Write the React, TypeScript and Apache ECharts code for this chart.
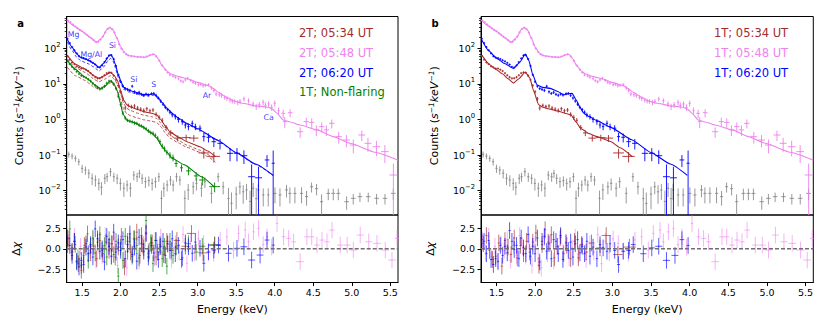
import React, { useEffect, useRef } from "react";
import * as echarts from "echarts";

const FONT = "DejaVu Sans";
const X_MIN = 1.3;
const X_MAX = 5.6;
const LOG_MIN = -2.683;
const LOG_MAX = 2.893;
const RES_MIN = -4.07;
const RES_MAX = 4.07;

const energyTicks = [1.5, 2.0, 2.5, 3.0, 3.5, 4.0, 4.5, 5.0, 5.5];
const decadeTicks = [-2, -1, 0, 1, 2];
const residualTicks = [-2.5, 0, 2.5];

const BROWN = "#a52a2a";
const VIOLET = "#ee82ee";
const BLUE = "#0000ff";
const GREEN = "#008000";
const GRAY = "#808080";

const legendA: [string, string][] = [
  ["2T; 05:34 UT", BROWN],
  ["2T; 05:48 UT", VIOLET],
  ["2T; 06:20 UT", BLUE],
  ["1T; Non-flaring", GREEN],
];
const legendB: [string, string][] = [
  ["1T; 05:34 UT", BROWN],
  ["1T; 05:48 UT", VIOLET],
  ["1T; 06:20 UT", BLUE],
];

// [label, energy keV, counts]
const lineLabels: [string, number, number][] = [
  ["Mg", 1.39, 244],
  ["Mg/Al", 1.62, 69],
  ["Si", 1.894, 121],
  ["Si", 2.171, 13.7],
  ["S", 2.431, 9.5],
  ["Ar", 3.12, 4.67],
  ["Ca", 3.92, 1.15],
];

// Data: [energy, half bin width, counts, error]
const pinkData = [
  [1.32,0.008,600,15],[1.35,0.008,540,14],[1.38,0.008,470,13],[1.41,0.008,410,12],[1.44,0.008,365,11],[1.47,0.008,330,10],[1.50,0.008,300,9],[1.53,0.008,268,8],[1.56,0.008,240,8],[1.59,0.008,212,7],[1.62,0.008,190,7],[1.65,0.008,168,6],[1.68,0.008,150,6],[1.71,0.008,152,6],[1.74,0.008,175,6],[1.77,0.008,215,7],[1.80,0.008,280,8],[1.83,0.008,350,9],[1.86,0.008,380,10],[1.89,0.008,345,9],[1.92,0.008,275,8],[1.95,0.008,195,7],[1.98,0.008,130,5],[2.01,0.008,98,4],[2.04,0.008,78,4],[2.07,0.008,68,3],[2.10,0.008,63,3],[2.14,0.008,60,3],[2.18,0.008,59,3],[2.22,0.008,57,3],[2.26,0.008,57,3],[2.30,0.008,56,3],[2.34,0.008,59,3],[2.38,0.008,64,3],[2.42,0.008,68,3],[2.46,0.008,60,3],[2.50,0.008,45,2.5],[2.54,0.008,33,2],[2.58,0.008,25,1.8],[2.61,0.01,21,1.6],
  [2.64,0.012,17.8,1.5],[2.68,0.012,16.5,1.4],[2.71,0.012,15.3,1.4],[2.75,0.012,14.0,1.3],[2.78,0.012,12.3,1.2],[2.81,0.012,11.5,1.2],[2.84,0.012,13.0,1.3],[2.87,0.012,14.4,1.4],[2.91,0.012,12.5,1.2],[2.94,0.012,11.1,1.1],[2.97,0.012,10.5,1.1],[3.01,0.012,9.5,1.0],[3.04,0.012,9.8,1.0],[3.07,0.012,8.9,1.0],[3.10,0.012,9.2,1.0],[3.14,0.012,9.5,1.0],[3.18,0.012,7.7,0.9],[3.21,0.012,6.5,0.8],[3.24,0.012,5.2,0.7],[3.28,0.012,5.0,0.7],[3.31,0.012,4.67,0.65],[3.35,0.012,4.2,0.6],[3.38,0.012,3.9,0.6],[3.42,0.012,3.53,0.55],[3.45,0.012,3.3,0.5],[3.48,0.012,3.24,0.5],[3.52,0.012,3.0,0.5],[3.55,0.012,3.24,0.5],[3.60,0.015,3.77,0.6],[3.66,0.015,3.37,0.55],[3.72,0.015,2.72,0.5],[3.76,0.015,2.29,0.45],[3.80,0.015,2.6,0.5],[3.85,0.015,3.04,0.55],[3.88,0.015,2.5,0.5],[3.92,0.015,2.72,0.5],[3.96,0.015,2.2,0.45],[4.00,0.015,2.85,0.55],[4.05,0.015,1.77,0.4],
  [4.11,0.025,1.49,0.4],[4.13,0.025,0.87,0.3],[4.20,0.03,1.55,0.4],[4.33,0.04,0.454,0.15],[4.41,0.035,0.87,0.25],[4.48,0.035,0.83,0.25],[4.54,0.035,0.51,0.17],[4.61,0.035,0.63,0.2],[4.67,0.035,0.51,0.17],[4.74,0.035,0.78,0.22],[4.83,0.04,0.33,0.12],[4.93,0.045,0.265,0.1],[5.02,0.045,0.192,0.08],[5.13,0.045,0.367,0.12],[5.21,0.045,0.214,0.09],[5.32,0.05,0.172,0.08],[5.43,0.05,0.125,0.065],[5.54,0.05,0.0276,0.03],
];

const blueData = [
  [1.31,0.008,185,6],[1.34,0.008,140,5],[1.37,0.008,108,4],[1.40,0.008,88,4],[1.43,0.008,72,3],[1.46,0.008,60,3],[1.49,0.008,55,3],[1.52,0.008,53,3],[1.55,0.008,50,3],[1.58,0.008,46,2.5],[1.61,0.008,43,2.5],[1.64,0.008,39,2.5],[1.67,0.008,35,2],[1.70,0.008,30,2],[1.73,0.008,29,2],[1.76,0.008,33,2],[1.79,0.008,41,2],[1.82,0.008,52,3],[1.85,0.008,63,3],[1.88,0.008,64,3],[1.91,0.008,50,3],[1.94,0.008,32,2],[1.97,0.008,18,1.5],[2.00,0.008,11.5,1],[2.03,0.008,8.6,0.8],[2.06,0.008,7.4,0.7],[2.09,0.008,7.0,0.7],[2.12,0.008,6.6,0.7],[2.15,0.008,8.6,0.8],[2.18,0.008,6.0,0.6],[2.21,0.008,5.4,0.5],[2.24,0.008,5.8,0.6],[2.27,0.008,5.1,0.5],[2.30,0.008,4.8,0.5],[2.33,0.008,5.2,0.5],[2.36,0.008,4.9,0.5],[2.40,0.008,5.3,0.5],[2.43,0.008,5.4,0.5],[2.46,0.008,4.8,0.5],[2.49,0.008,4.0,0.4],[2.52,0.008,3.3,0.35],[2.55,0.008,2.7,0.3],[2.58,0.01,2.2,0.25],[2.61,0.01,1.9,0.22],[2.64,0.012,1.6,0.2],[2.67,0.012,1.35,0.2],
  [2.71,0.015,1.2,0.2],[2.75,0.015,1.0,0.18],[2.80,0.015,0.87,0.16],[2.84,0.015,0.70,0.14],[2.88,0.015,0.63,0.13],[2.93,0.015,0.78,0.15],[2.97,0.015,0.63,0.13],[3.03,0.02,0.57,0.12],[3.08,0.02,0.33,0.09],[3.14,0.025,0.316,0.09],[3.21,0.03,0.238,0.07],[3.29,0.035,0.214,0.07],[3.42,0.04,0.112,0.045],[3.51,0.04,0.112,0.045],[3.60,0.045,0.096,0.04],[3.70,0.045,0.0247,0.03],[3.79,0.045,0.023,0.024],[3.90,0.03,0.073,0.027],[3.98,0.02,0.059,0.075],
];

const brownData = [
  [1.31,0.008,60,3],[1.34,0.008,48,2.5],[1.37,0.008,40,2.2],[1.40,0.008,36,2],[1.43,0.008,31,2],[1.46,0.008,29,1.8],[1.49,0.008,27,1.7],[1.52,0.008,27,1.7],[1.55,0.008,25,1.6],[1.58,0.008,23,1.5],[1.61,0.008,20,1.4],[1.64,0.008,17.5,1.3],[1.67,0.008,15.5,1.2],[1.70,0.008,14.3,1.1],[1.73,0.008,14.5,1.1],[1.76,0.008,15.5,1.2],[1.79,0.008,17.5,1.3],[1.82,0.008,20,1.4],[1.85,0.008,21,1.4],[1.88,0.008,20.5,1.4],[1.91,0.008,17,1.3],[1.94,0.008,13,1.1],[1.97,0.008,9,0.9],[2.00,0.008,6,0.7],[2.03,0.01,3.8,0.5],
  [2.06,0.012,2.1,0.3],[2.10,0.012,2.5,0.3],[2.14,0.012,2.3,0.3],[2.18,0.012,2.4,0.3],[2.22,0.012,2.1,0.28],[2.26,0.012,1.95,0.26],[2.30,0.012,1.8,0.25],[2.34,0.015,2.0,0.26],[2.38,0.015,1.75,0.24],[2.42,0.015,1.85,0.25],[2.46,0.015,1.4,0.2],[2.50,0.015,1.15,0.17],[2.54,0.015,0.95,0.15],[2.59,0.02,0.6,0.1],[2.65,0.03,0.42,0.08],[2.74,0.05,0.30,0.06],[2.85,0.06,0.31,0.065],[2.95,0.06,0.30,0.065],[3.08,0.07,0.115,0.035],[3.21,0.08,0.092,0.03],
];

const greenData = [
  [1.31,0.008,44,2.5],[1.34,0.008,36,2.2],[1.37,0.008,30,2],[1.40,0.008,26,1.8],[1.43,0.008,22,1.6],[1.46,0.008,19,1.5],[1.49,0.008,17,1.4],[1.52,0.008,16,1.3],[1.55,0.008,15,1.3],[1.58,0.008,13.5,1.2],[1.61,0.008,12,1.1],[1.64,0.008,10.3,1],[1.67,0.008,9,0.9],[1.70,0.008,8,0.8],[1.73,0.008,7.3,0.8],[1.76,0.008,7.6,0.8],[1.79,0.008,8.6,0.9],[1.82,0.008,10.5,1],[1.85,0.008,12,1.1],[1.88,0.008,11.8,1.1],[1.91,0.008,10,1],[1.94,0.008,7.5,0.8],[1.97,0.008,4.5,0.5],[2.00,0.008,2.6,0.3],[2.03,0.008,1.5,0.2],[2.06,0.008,1.1,0.12],[2.09,0.008,0.95,0.1],[2.12,0.008,0.90,0.1],[2.15,0.008,0.86,0.09],[2.18,0.008,0.80,0.09],[2.21,0.008,0.78,0.08],[2.24,0.008,0.70,0.08],[2.27,0.008,0.66,0.07],[2.30,0.008,0.60,0.07],[2.33,0.008,0.55,0.06],[2.36,0.008,0.48,0.06],[2.39,0.008,0.43,0.05],[2.42,0.008,0.41,0.05],[2.45,0.008,0.36,0.05],[2.48,0.008,0.30,0.04],[2.51,0.008,0.24,0.035],[2.54,0.01,0.18,0.03],[2.57,0.01,0.15,0.025],[2.60,0.01,0.12,0.02],[2.64,0.015,0.10,0.02],[2.68,0.015,0.085,0.018],
  [2.72,0.02,0.058,0.012],[2.79,0.02,0.044,0.01],[2.88,0.03,0.036,0.009],[2.98,0.03,0.026,0.007],[3.06,0.04,0.02,0.006],[3.22,0.07,0.013,0.004],
];

const grayData = [
  [1.327,0.01,0.105,0.02],[1.37,0.01,0.094,0.018],[1.413,0.01,0.081,0.016],[1.457,0.01,0.065,0.014],[1.5,0.01,0.0425,0.011],[1.543,0.01,0.038,0.01],[1.587,0.01,0.031,0.009],[1.63,0.01,0.0223,0.008],[1.673,0.01,0.02,0.007],[1.717,0.01,0.0161,0.006],[1.751,0.01,0.0125,0.005],[1.795,0.01,0.0223,0.007],[1.825,0.01,0.0247,0.007],[1.868,0.01,0.0342,0.009],[1.912,0.01,0.0247,0.007],[1.955,0.01,0.0223,0.007],[1.997,0.01,0.0161,0.006],[2.042,0.01,0.0117,0.005],[2.084,0.01,0.0145,0.005],[2.127,0.01,0.0117,0.005],[2.171,0.01,0.0276,0.008],[2.214,0.01,0.0247,0.007],[2.244,0.01,0.0308,0.008],[2.279,0.01,0.0223,0.007],[2.322,0.01,0.0179,0.006],[2.366,0.01,0.0191,0.006],[2.409,0.01,0.0161,0.006],[2.452,0.01,0.0179,0.006],[2.496,0.01,0.0247,0.007],[2.53,0.01,0.0061,0.004],[2.561,0.01,0.0117,0.005],[2.604,0.01,0.0145,0.005],[2.647,0.012,0.02,0.006],[2.682,0.012,0.0145,0.005],[2.725,0.012,0.0247,0.007],[2.769,0.012,0.02,0.006],[2.834,0.012,0.0061,0.004],[2.877,0.012,0.0105,0.005],[2.942,0.015,0.0129,0.005],[2.984,0.015,0.0161,0.006],[3.049,0.015,0.0117,0.005],[3.094,0.015,0.0179,0.006],[3.179,0.015,0.0084,0.004],[3.266,0.015,0.0247,0.007],[3.331,0.015,0.0129,0.005],[3.40,0.015,0.006,0.006],[3.439,0.015,0.0044,0.0045],[3.50,0.015,0.008,0.005],[3.548,0.015,0.0129,0.005],[3.591,0.015,0.0093,0.005],[3.634,0.015,0.0105,0.005],[3.68,0.015,0.005,0.005],[3.721,0.015,0.0117,0.005],[3.76,0.015,0.006,0.006],[3.786,0.015,0.0105,0.005],[3.851,0.015,0.0076,0.004],[3.916,0.015,0.0076,0.004],[4.003,0.02,0.0084,0.004],[4.068,0.02,0.0076,0.004],[4.153,0.02,0.0105,0.004],[4.197,0.02,0.0084,0.004],[4.262,0.02,0.0084,0.004],[4.348,0.02,0.0084,0.004],[4.413,0.02,0.0068,0.003],[4.478,0.02,0.0129,0.004],[4.543,0.02,0.0114,0.004],[4.608,0.02,0.0049,0.003],[4.695,0.025,0.0084,0.003],[4.76,0.025,0.0084,0.003],[4.825,0.025,0.0084,0.003],[4.933,0.03,0.0049,0.002],[5.019,0.03,0.0061,0.002],[5.106,0.03,0.0068,0.002],[5.214,0.03,0.0068,0.002],[5.322,0.03,0.0061,0.002],[5.431,0.03,0.0061,0.002],[5.539,0.03,0.0084,0.003],
];

// Models: [energy, counts]
const pinkModel = [[1.30,624],[1.40,420],[1.50,300],[1.60,205],[1.69,147],[1.76,200],[1.82,330],[1.86,384],[1.90,330],[1.95,200],[2.00,110],[2.05,76],[2.10,63],[2.20,58],[2.32,56],[2.40,66],[2.44,68],[2.49,50],[2.54,32],[2.60,23],[2.65,19],[2.75,16],[2.88,13.7],[3.00,11],[3.14,8.9],[3.20,7.5],[3.27,5.8],[3.37,4.3],[3.48,3.24],[3.60,2.8],[3.74,2.44],[3.85,2.3],[3.92,2.2],[3.97,1.95],[4.03,1.49],[4.11,0.97],[4.20,0.85],[4.33,0.70],[4.55,0.51],[4.76,0.33],[4.98,0.214],[5.30,0.12],[5.60,0.072]];
const blueModelA = [[1.30,190],[1.37,107],[1.43,70],[1.48,56],[1.54,50],[1.59,45],[1.65,38],[1.72,29],[1.78,38],[1.84,58],[1.87,66],[1.90,55],[1.93,36],[1.97,18],[2.01,11],[2.04,8.0],[2.10,6.8],[2.15,6.2],[2.22,5.6],[2.30,5.0],[2.36,5.0],[2.43,5.2],[2.48,4.3],[2.54,3.0],[2.60,2.1],[2.67,1.5],[2.75,1.1],[2.85,0.80],[3.00,0.55],[3.25,0.27],[3.50,0.118],[3.75,0.056],[3.98,0.027]];
const blueCompA = [[1.31,150],[1.37,86],[1.43,56],[1.48,45],[1.54,40],[1.59,36],[1.65,30],[1.72,23],[1.78,30],[1.84,46],[1.87,52],[1.90,44],[1.93,29],[1.97,15],[2.01,9.5],[2.04,7.0],[2.10,6.0],[2.15,5.6],[2.22,5.1],[2.30,4.6],[2.36,4.6],[2.43,4.8],[2.48,4.0],[2.54,2.8],[2.60,1.95],[2.67,1.4],[2.75,1.03],[2.85,0.76],[3.00,0.53],[3.25,0.26],[3.50,0.115],[3.75,0.055],[3.98,0.0265]];
const brownModelA = [[1.31,62],[1.41,36],[1.54,26],[1.60,21],[1.65,17],[1.72,14.4],[1.79,17],[1.87,21],[1.92,17],[1.96,12.3],[2.00,6.5],[2.04,3.5],[2.08,2.6],[2.13,2.24],[2.22,1.9],[2.30,1.66],[2.40,1.5],[2.47,1.34],[2.52,1.0],[2.58,0.65],[2.64,0.45],[2.75,0.32],[2.86,0.238],[3.03,0.172],[3.13,0.13],[3.23,0.09]];
const brownCompA1 = [[1.31,50],[1.41,29],[1.54,21],[1.60,17],[1.65,13.5],[1.72,11.5],[1.79,13.5],[1.87,17],[1.92,13.5],[1.96,9.8],[2.00,5.2],[2.04,2.8],[2.08,2.05],[2.13,1.78],[2.22,1.5],[2.30,1.32],[2.40,1.2],[2.47,1.07],[2.52,0.8],[2.58,0.52],[2.64,0.36],[2.75,0.26],[2.86,0.19],[3.03,0.138],[3.13,0.104],[3.23,0.072]];
const brownCompA2 = [[1.31,29],[1.41,17],[1.54,12.5],[1.60,10],[1.65,8.2],[1.72,7.0],[1.79,8.5],[1.87,10.8],[1.92,8.8],[1.96,6.5],[2.00,3.5],[2.04,1.9],[2.08,1.45],[2.13,1.27],[2.22,1.1],[2.30,0.98],[2.40,0.9],[2.47,0.82],[2.52,0.63],[2.58,0.42],[2.64,0.30],[2.75,0.22],[2.86,0.165],[3.03,0.12],[3.13,0.091],[3.23,0.063]];
const greenModel = [[1.31,45],[1.41,26],[1.54,15.3],[1.60,12.5],[1.65,9.9],[1.74,7.2],[1.80,8.8],[1.87,12.3],[1.92,9.5],[1.955,6.4],[2.00,2.7],[2.03,1.43],[2.085,0.94],[2.17,0.83],[2.28,0.63],[2.36,0.47],[2.41,0.40],[2.47,0.30],[2.54,0.172],[2.60,0.12],[2.67,0.081],[2.83,0.053],[3.05,0.0247],[3.22,0.0125]];
const blueModelB = [[1.31,171],[1.40,85],[1.505,52],[1.60,38],[1.72,27],[1.80,40],[1.873,69],[1.92,45],[1.97,18],[2.025,9.3],[2.10,8.0],[2.197,7.5],[2.30,6.0],[2.37,4.9],[2.43,5.3],[2.479,5.4],[2.53,3.6],[2.58,2.2],[2.63,1.49],[2.70,1.2],[2.80,0.93],[2.98,0.6],[3.25,0.27],[3.50,0.118],[3.75,0.056],[3.97,0.027]];
const brownModelB = [[1.31,64],[1.41,35],[1.50,25],[1.58,19],[1.65,14],[1.72,10.5],[1.79,14],[1.873,21.5],[1.93,15],[1.98,6.5],[2.045,2.6],[2.10,2.2],[2.197,1.95],[2.30,1.7],[2.414,1.45],[2.47,1.3],[2.53,0.85],[2.587,0.57],[2.70,0.40],[2.804,0.33],[2.977,0.24],[3.10,0.16],[3.258,0.09]];

// Residuals: [energy, half bin width, delta chi]
const resPink = [[1.32,0.008,0.8],[1.36,0.008,-0.5],[1.40,0.008,1.5],[1.44,0.008,-1.0],[1.48,0.008,0.3],[1.52,0.008,-1.6],[1.56,0.008,0.6],[1.60,0.008,-0.2],[1.64,0.008,1.1],[1.68,0.008,-1.4],[1.72,0.008,0.4],[1.76,0.008,-0.8],[1.80,0.008,1.6],[1.84,0.008,0.2],[1.88,0.008,-0.9],[1.92,0.008,0.9],[1.96,0.008,-2.0],[2.00,0.008,0.5],[2.04,0.008,-1.2],[2.08,0.008,-2.3],[2.12,0.008,1.3],[2.16,0.008,-0.6],[2.20,0.008,0.7],[2.24,0.008,-1.5],[2.28,0.008,0.3],[2.32,0.008,1.2],[2.36,0.008,-0.4],[2.40,0.008,0.8],[2.44,0.008,-1.1],[2.48,0.008,0.1],[2.52,0.008,1.4],[2.56,0.008,-0.7],[2.61,0.01,0.5],[2.66,0.012,-1.3],[2.71,0.012,0.6],[2.76,0.012,-0.4],[2.81,0.012,1.7],[2.86,0.012,-1.8],[2.91,0.012,0.9],[2.96,0.012,-0.5],[3.01,0.012,1.2],[3.076,0.012,0.65],[3.14,0.012,-0.3],[3.206,0.012,-0.55],[3.292,0.012,1.05],[3.379,0.012,1.44],[3.465,0.012,-0.16],[3.53,0.012,1.85],[3.617,0.015,2.25],[3.66,0.015,0.84],[3.725,0.015,2.04],[3.79,0.015,2.45],[3.85,0.015,0.5],[3.90,0.015,1.44],[3.96,0.015,0.2],[4.03,0.015,3.05],[4.115,0.025,1.44],[4.18,0.03,1.25],[4.245,0.03,0.84],[4.33,0.05,-1.56],[4.418,0.035,1.44],[4.48,0.035,1.44],[4.548,0.035,0.44],[4.613,0.035,1.05],[4.678,0.035,0.84],[4.743,0.035,2.25],[4.85,0.04,0.44],[4.94,0.045,0.44],[5.02,0.045,-0.16],[5.11,0.045,1.65],[5.22,0.045,0.84],[5.327,0.05,0.65],[5.435,0.05,-0.16],[5.522,0.05,-1.36],[5.587,0.03,1.25]];
const resBlueA = [[1.31,0.008,1.3],[1.34,0.008,0.4],[1.37,0.008,-0.8],[1.40,0.008,0.9],[1.43,0.008,-1.5],[1.46,0.008,-2.2],[1.49,0.008,-1.4],[1.52,0.008,-1.9],[1.55,0.008,0.2],[1.58,0.008,-0.6],[1.61,0.008,0.5],[1.64,0.008,-1.0],[1.67,0.008,2.4],[1.70,0.008,1.2],[1.73,0.008,-0.3],[1.76,0.008,0.0],[1.79,0.008,-1.6],[1.82,0.008,1.5],[1.85,0.008,0.3],[1.88,0.008,-0.9],[1.91,0.008,2.0],[1.94,0.008,-0.4],[1.97,0.008,0.7],[2.00,0.008,-0.2],[2.03,0.008,1.1],[2.06,0.008,-1.2],[2.09,0.008,0.5],[2.12,0.008,1.8],[2.15,0.008,-0.7],[2.18,0.008,0.2],[2.21,0.008,-1.5],[2.24,0.008,1.4],[2.27,0.008,0.6],[2.30,0.008,-0.3],[2.33,0.008,1.9],[2.36,0.008,-1.0],[2.40,0.008,0.4],[2.43,0.008,-0.5],[2.46,0.008,1.0],[2.49,0.008,-1.3],[2.52,0.008,0.3],[2.55,0.008,0.9],[2.58,0.01,-0.8],[2.61,0.01,0.6],[2.64,0.012,-0.2],[2.67,0.012,1.2],[2.71,0.015,-0.6],[2.75,0.015,0.4],[2.80,0.015,-1.1],[2.84,0.015,0.7],[2.88,0.015,0.24],[2.93,0.015,-0.55],[2.97,0.015,0.8],[3.03,0.02,0.05],[3.08,0.02,-1.75],[3.14,0.025,-0.4],[3.21,0.03,-0.16],[3.27,0.03,0.44],[3.40,0.04,-0.55],[3.51,0.04,0.05],[3.60,0.045,0.24],[3.70,0.045,-1.36],[3.81,0.045,-0.76],[3.90,0.03,1.05],[3.98,0.02,0.44]];
const resBrownA = [[1.33,0.008,1.2],[1.37,0.008,-0.3],[1.41,0.008,0.5],[1.45,0.008,-1.8],[1.49,0.008,-2.6],[1.53,0.008,0.4],[1.57,0.008,1.8],[1.61,0.008,-0.5],[1.65,0.008,0.3],[1.69,0.008,-1.2],[1.73,0.008,1.0],[1.77,0.008,-0.6],[1.81,0.008,0.8],[1.85,0.008,-0.2],[1.89,0.008,0.6],[1.93,0.008,-1.0],[1.97,0.008,0.2],[2.01,0.008,1.5],[2.05,0.008,-2.2],[2.09,0.01,0.9],[2.13,0.01,-0.4],[2.17,0.01,1.2],[2.21,0.01,2.0],[2.25,0.01,-0.8],[2.29,0.01,0.5],[2.33,0.012,1.8],[2.37,0.012,-0.3],[2.41,0.012,0.7],[2.46,0.015,-1.0],[2.51,0.015,0.2],[2.56,0.015,-0.7],[2.60,0.02,0.9],[2.66,0.025,-0.2],[2.73,0.04,1.0],[2.84,0.05,0.3],[2.92,0.06,1.85],[3.07,0.06,-0.5],[3.22,0.08,0.4]];
const resGreenA = [[1.31,0.008,0.5],[1.34,0.008,2.4],[1.37,0.008,-0.4],[1.40,0.008,0.9],[1.43,0.008,-1.6],[1.46,0.008,-1.2],[1.49,0.008,-2.0],[1.52,0.008,-0.8],[1.55,0.008,0.6],[1.58,0.008,-1.4],[1.61,0.008,0.3],[1.64,0.008,1.3],[1.67,0.008,-0.5],[1.70,0.008,0.8],[1.73,0.008,1.7],[1.76,0.008,-0.2],[1.79,0.008,0.4],[1.82,0.008,-1.0],[1.85,0.008,1.1],[1.88,0.008,0.6],[1.91,0.008,-0.7],[1.94,0.008,0.9],[1.97,0.008,-3.3],[2.00,0.008,0.2],[2.03,0.008,-1.4],[2.06,0.008,1.5],[2.09,0.008,-0.3],[2.12,0.008,0.8],[2.15,0.008,-0.9],[2.18,0.008,1.2],[2.21,0.008,0.4],[2.24,0.008,-1.1],[2.27,0.008,1.6],[2.30,0.008,0.1],[2.33,0.008,3.4],[2.36,0.008,-0.6],[2.39,0.008,0.7],[2.42,0.008,-1.8],[2.45,0.008,1.0],[2.48,0.008,-0.4],[2.51,0.008,0.5],[2.54,0.01,-1.2],[2.57,0.01,0.3],[2.60,0.01,-2.1],[2.64,0.015,0.9],[2.68,0.015,-0.8],[2.72,0.02,0.2],[2.79,0.02,-1.3],[2.88,0.03,0.6],[2.98,0.03,-0.4],[3.06,0.04,0.3],[3.22,0.07,0.5]];
const resBlueB = [[1.31,0.008,1.1],[1.34,0.008,0.9],[1.37,0.008,-0.6],[1.40,0.008,1.0],[1.43,0.008,-1.3],[1.46,0.008,-1.9],[1.49,0.008,-1.2],[1.52,0.008,-1.5],[1.55,0.008,0.4],[1.58,0.008,-0.8],[1.61,0.008,0.3],[1.64,0.008,-0.5],[1.67,0.008,2.2],[1.70,0.008,0.9],[1.73,0.008,-0.1],[1.76,0.008,0.4],[1.79,0.008,-1.2],[1.82,0.008,1.3],[1.85,0.008,0.1],[1.88,0.008,-0.6],[1.91,0.008,1.7],[1.94,0.008,-0.9],[1.97,0.008,0.3],[2.00,0.008,-0.6],[2.03,0.008,1.3],[2.06,0.008,-1.6],[2.09,0.008,0.9],[2.12,0.008,1.5],[2.15,0.008,-0.3],[2.18,0.008,0.6],[2.21,0.008,-1.2],[2.24,0.008,1.1],[2.27,0.008,0.9],[2.30,0.008,-0.6],[2.33,0.008,1.6],[2.36,0.008,-1.3],[2.40,0.008,0.7],[2.43,0.008,-0.2],[2.46,0.008,0.8],[2.49,0.008,-1.0],[2.52,0.008,0.6],[2.55,0.008,1.1],[2.58,0.01,-0.5],[2.61,0.01,0.3],[2.64,0.012,-0.6],[2.67,0.012,0.9],[2.71,0.015,-0.9],[2.75,0.015,0.2],[2.80,0.015,-1.2],[2.84,0.015,0.5],[2.88,0.015,0.1],[2.93,0.015,-0.3],[2.97,0.015,0.6],[3.03,0.02,-0.2],[3.08,0.02,-1.9],[3.14,0.025,-0.3],[3.21,0.03,-0.2],[3.27,0.03,0.5],[3.40,0.04,-0.6],[3.51,0.04,0.1],[3.60,0.045,0.3],[3.70,0.045,-1.4],[3.81,0.045,-0.8],[3.90,0.03,1.1],[3.98,0.02,0.4]];
const resBrownB = [[1.33,0.008,0.6],[1.37,0.008,1.6],[1.41,0.008,-0.2],[1.45,0.008,-1.3],[1.49,0.008,-0.9],[1.53,0.008,0.7],[1.57,0.008,-2.1],[1.61,0.008,1.0],[1.65,0.008,0.2],[1.69,0.008,-0.7],[1.73,0.008,1.3],[1.77,0.008,-1.1],[1.81,0.008,0.4],[1.85,0.008,-0.6],[1.89,0.008,0.9],[1.93,0.008,-0.4],[1.97,0.008,0.8],[2.01,0.008,1.9],[2.05,0.008,-2.0],[2.09,0.01,0.5],[2.13,0.01,2.3],[2.17,0.01,0.8],[2.21,0.01,1.7],[2.25,0.01,-1.1],[2.29,0.01,0.3],[2.33,0.012,1.4],[2.37,0.012,-0.6],[2.41,0.012,0.4],[2.46,0.015,-1.2],[2.51,0.015,0.9],[2.56,0.015,-1.1],[2.60,0.02,0.5],[2.66,0.025,-0.4],[2.73,0.04,0.7],[2.84,0.05,0.1],[2.92,0.06,1.6],[3.07,0.06,-0.7],[3.22,0.08,0.2]];

const clampLog = (v: number) => Math.min(LOG_MAX, Math.max(LOG_MIN, v));
const logBars = (rows: number[][]) =>
  rows.map(([e, de, v, err]) => [e, de, Math.log10(v), v - err > 0 ? clampLog(Math.log10(v - err)) : LOG_MIN, clampLog(Math.log10(v + err))]);
const resBars = (rows: number[][]) =>
  rows.map(([e, de, r]) => [e, de, r, Math.max(RES_MIN, r - 1), Math.min(RES_MAX, r + 1)]);
const logLine = (rows: number[][]) => rows.map(([e, v]) => [e, Math.log10(v)]);

const minorTicks: number[] = [];
for (let n = -3; n <= 2; n++) {
  for (let k = 2; k <= 9; k++) {
    const v = n + Math.log10(k);
    if (v > LOG_MIN && v < LOG_MAX) minorTicks.push(v);
  }
}

function barRenderer(color: string, opacity: number) {
  return (_params: any, api: any) => {
    const e = api.value(0), de = api.value(1), y = api.value(2), lo = api.value(3), hi = api.value(4);
    const c = api.coord([e, y]);
    const l = api.coord([e - de, y]);
    const r = api.coord([e + de, y]);
    const b = api.coord([e, lo]);
    const t = api.coord([e, hi]);
    const hx = Math.max(1.1, (r[0] - l[0]) / 2);
    const y1 = Math.min(t[1], c[1] - 1.1);
    const y2 = Math.max(b[1], c[1] + 1.1);
    const style = { stroke: color, lineWidth: 1, opacity };
    return {
      type: "group",
      children: [
        { type: "line", shape: { x1: c[0] - hx, y1: c[1], x2: c[0] + hx, y2: c[1] }, style },
        { type: "line", shape: { x1: c[0], y1, x2: c[0], y2 }, style },
      ],
    };
  };
}

const barSeries = (data: number[][], color: string, opacity: number, xi: number, yi: number, z = 2) => ({
  type: "custom",
  xAxisIndex: xi,
  yAxisIndex: yi,
  data,
  renderItem: barRenderer(color, opacity),
  encode: { x: 0, y: 2 },
  clip: true,
  silent: true,
  z,
});

const modelSeries = (data: number[][], color: string, xi: number, yi: number, dashed = false) => ({
  type: "line",
  xAxisIndex: xi,
  yAxisIndex: yi,
  data: logLine(data),
  showSymbol: false,
  symbol: "none",
  smooth: 0.15,
  smoothMonotone: "x",
  silent: true,
  z: 4,
  lineStyle: { color, width: dashed ? 0.8 : 1.1, type: dashed ? [3, 2] : "solid" },
});

const zeroLine = (xi: number, yi: number) => ({
  type: "line",
  xAxisIndex: xi,
  yAxisIndex: yi,
  data: [[X_MIN, 0], [X_MAX, 0]],
  showSymbol: false,
  symbol: "none",
  silent: true,
  z: 6,
  lineStyle: { color: "#6f6f6f", width: 1.3, type: [4, 2] },
});

const tickStyle = { color: "#000", width: 1 };
const baseText = { fontFamily: FONT, color: "#000" };

const topX = (gridIndex: number) => ({
  type: "value", gridIndex, min: X_MIN, max: X_MAX,
  axisLine: { show: false }, axisTick: { show: false }, axisLabel: { show: false }, splitLine: { show: false },
});
const resX = (gridIndex: number) => ({
  type: "value", gridIndex, min: X_MIN, max: X_MAX,
  name: "Energy (keV)", nameLocation: "middle", nameGap: 21,
  nameTextStyle: { ...baseText, fontSize: 11 },
  axisLine: { show: true, onZero: false, lineStyle: tickStyle },
  axisTick: { show: true, customValues: energyTicks, length: 3.5, lineStyle: tickStyle },
  axisLabel: { customValues: energyTicks, formatter: (v: number) => v.toFixed(1), ...baseText, fontSize: 9.5, margin: 5 },
  splitLine: { show: false },
});
const topY = (gridIndex: number) => ({
  type: "value", gridIndex, min: LOG_MIN, max: LOG_MAX, position: "left",
  name: "Counts ({it|s}{sup|−1}{it|keV}{sup|−1})", nameLocation: "middle", nameGap: 40, nameRotate: 90,
  nameTextStyle: {
    ...baseText, fontSize: 11,
    rich: {
      it: { fontFamily: FONT, fontStyle: "italic", fontSize: 11, color: "#000" },
      sup: { fontFamily: FONT, fontStyle: "italic", fontSize: 7.5, color: "#000", verticalAlign: "top", padding: [0, 0, 6, 0] },
    },
  },
  axisLine: { show: true, onZero: false, lineStyle: tickStyle },
  axisTick: { show: true, customValues: decadeTicks, length: 3.5, lineStyle: tickStyle },
  axisLabel: {
    customValues: decadeTicks, margin: 6,
    formatter: (v: number) => `{b|10}{s|${v < 0 ? "−" : ""}${Math.abs(Math.round(v))}}`,
    rich: {
      b: { fontFamily: FONT, fontSize: 9.5, color: "#000" },
      s: { fontFamily: FONT, fontSize: 6.8, color: "#000", padding: [0, 0, 7, 0] },
    },
  },
  splitLine: { show: false },
});
const minorY = (gridIndex: number) => ({
  type: "value", gridIndex, min: LOG_MIN, max: LOG_MAX, position: "left",
  axisLine: { show: false }, axisLabel: { show: false }, splitLine: { show: false },
  axisTick: { show: true, customValues: minorTicks, length: 2, lineStyle: { color: "#000", width: 0.8 } },
});
const resY = (gridIndex: number) => ({
  type: "value", gridIndex, min: RES_MIN, max: RES_MAX, position: "left",
  name: "Δ{it|χ}", nameLocation: "middle", nameGap: 45, nameRotate: 90,
  nameTextStyle: { ...baseText, fontSize: 11, rich: { it: { fontFamily: FONT, fontStyle: "italic", fontSize: 11, color: "#000" } } },
  axisLine: { show: true, onZero: false, lineStyle: tickStyle },
  axisTick: { show: true, customValues: residualTicks, length: 3.5, lineStyle: tickStyle },
  axisLabel: {
    customValues: residualTicks, margin: 6, ...baseText, fontSize: 9.5,
    formatter: (v: number) => (v < 0 ? "−" : "") + Math.abs(v).toFixed(1),
  },
  splitLine: { show: false },
});

const gridBox = { show: true, borderColor: "#000", borderWidth: 1, backgroundColor: "rgba(0,0,0,0)" };

function buildOption() {
  const series: any[] = [];
  // Panel a (xAxis 0 top, 1 residual; yAxis 0 top, 1 residual)
  series.push(barSeries(logBars(grayData), GRAY, 0.8, 0, 0));
  series.push(barSeries(logBars(pinkData), VIOLET, 0.9, 0, 0));
  series.push(barSeries(logBars(greenData), GREEN, 0.9, 0, 0));
  series.push(barSeries(logBars(brownData), BROWN, 0.9, 0, 0));
  series.push(barSeries(logBars(blueData), BLUE, 0.9, 0, 0));
  series.push(modelSeries(brownCompA2, BROWN, 0, 0, true));
  series.push(modelSeries(brownCompA1, BROWN, 0, 0, true));
  series.push(modelSeries(blueCompA, BLUE, 0, 0, true));
  series.push(modelSeries(pinkModel, VIOLET, 0, 0));
  series.push(modelSeries(greenModel, GREEN, 0, 0));
  series.push(modelSeries(brownModelA, BROWN, 0, 0));
  series.push(modelSeries(blueModelA, BLUE, 0, 0));
  series.push({
    type: "scatter", xAxisIndex: 0, yAxisIndex: 0, silent: true, z: 8,
    symbol: "circle", symbolSize: 1, itemStyle: { color: "rgba(0,0,0,0)" },
    data: lineLabels.map(([t, e, v]) => ({ value: [e, Math.log10(v)], name: t })),
    label: { show: true, position: "inside", formatter: (p: any) => p.name, color: BLUE, fontSize: 7.8, fontFamily: FONT },
  });
  series.push(barSeries(resBars(resPink), VIOLET, 0.6, 1, 1));
  series.push(barSeries(resBars(resGreenA), GREEN, 0.65, 1, 1));
  series.push(barSeries(resBars(resBrownA), BROWN, 0.65, 1, 1));
  series.push(barSeries(resBars(resBlueA), BLUE, 0.65, 1, 1));
  series.push(zeroLine(1, 1));

  // Panel b (xAxis 2 top, 3 residual; yAxis 2 top, 3 residual)
  series.push(barSeries(logBars(grayData), GRAY, 0.8, 2, 2));
  series.push(barSeries(logBars(pinkData), VIOLET, 0.9, 2, 2));
  series.push(barSeries(logBars(brownData), BROWN, 0.9, 2, 2));
  series.push(barSeries(logBars(blueData), BLUE, 0.9, 2, 2));
  series.push(modelSeries(pinkModel, VIOLET, 2, 2));
  series.push(modelSeries(brownModelB, BROWN, 2, 2));
  series.push(modelSeries(blueModelB, BLUE, 2, 2));
  series.push(barSeries(resBars(resPink), VIOLET, 0.6, 3, 3));
  series.push(barSeries(resBars(resBrownB), BROWN, 0.65, 3, 3));
  series.push(barSeries(resBars(resBlueB), BLUE, 0.65, 3, 3));
  series.push(zeroLine(3, 3));

  const legendText = (items: [string, string][], x: number) =>
    items.map(([t, c], i) => ({
      type: "text", x, y: 33 + i * 19.8, silent: true, z: 10,
      style: { text: t, fill: c, fontSize: 11.5, fontFamily: FONT, align: "left", verticalAlign: "middle" },
    }));

  return {
    animation: false,
    backgroundColor: "#fff",
    grid: [
      { left: 66.7, top: 16.5, width: 331.3, height: 198.5, ...gridBox },
      { left: 66.7, top: 215, width: 331.3, height: 67.5, ...gridBox },
      { left: 481, top: 16.5, width: 332.3, height: 198.5, ...gridBox },
      { left: 481, top: 215, width: 332.3, height: 67.5, ...gridBox },
    ],
    xAxis: [topX(0), resX(1), topX(2), resX(3)],
    yAxis: [topY(0), resY(1), topY(2), resY(3), minorY(0), minorY(2)],
    series,
    graphic: [
      ...legendText(legendA, 299),
      ...legendText(legendB, 714),
      { type: "text", x: 20.5, y: 23, style: { text: "a", fontSize: 10, fontWeight: "bold", fontFamily: FONT, fill: "#000", align: "center", verticalAlign: "middle" } },
      { type: "text", x: 435, y: 23, style: { text: "b", fontSize: 10, fontWeight: "bold", fontFamily: FONT, fill: "#000", align: "center", verticalAlign: "middle" } },
    ],
  };
}

export default function App() {
  const ref = useRef<HTMLDivElement>(null);
  useEffect(() => {
    if (!ref.current) return;
    const chart = echarts.init(ref.current, undefined, { renderer: "svg" });
    chart.setOption(buildOption() as any);
    return () => chart.dispose();
  }, []);
  return <div ref={ref} style={{ position: "absolute", left: 0, top: 0, width: 830, height: 332 }} />;
}
